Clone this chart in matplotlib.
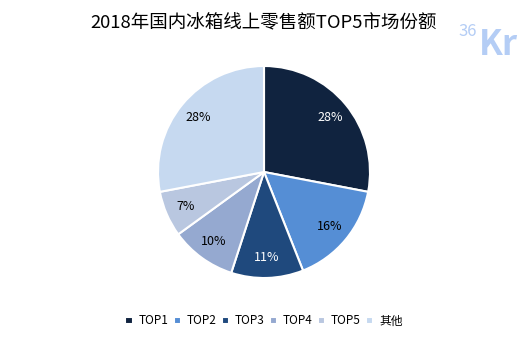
import matplotlib
matplotlib.use("Agg")
import matplotlib.pyplot as plt

plt.rcParams['font.family'] = ['Noto Sans CJK SC', 'DejaVu Sans']

categories = ['TOP1', 'TOP2', 'TOP3', 'TOP4', 'TOP5', '其他']
values = [28, 16, 11, 10, 7, 28]
colors = ['#10233F', '#558ED5', '#1F497D', '#95A9D0', '#B9C7E0', '#C6D9F0']
label_colors = ['white', 'black', 'white', 'black', 'black', 'black']
title = '2018年国内冰箱线上零售额TOP5市场份额'

fig = plt.figure(figsize=(5.28, 3.41), dpi=100)
fig.patch.set_facecolor('white')

r_px = 106
cx, cy = 264, 341 - 172
ax = fig.add_axes([(cx - r_px) / 528, (cy - r_px) / 341, 2 * r_px / 528, 2 * r_px / 341])
wedges, texts, autotexts = ax.pie(values, colors=colors, startangle=90, counterclock=False,
                                  autopct='%d%%', pctdistance=0.81,
                                  wedgeprops=dict(edgecolor='white', linewidth=1.5),
                                  textprops=dict(fontsize=9))
for t, c in zip(autotexts, label_colors):
    t.set_color(c)
ax.set_xlim(-1, 1)
ax.set_ylim(-1, 1)
ax.set_aspect('equal')

fig.text(0.5, 1 - 23 / 341, title, ha='center', va='center', fontsize=13.3, color='black')

# 36Kr logo
logo_color = '#B4CDF5'
fig.text(458 / 528, 1 - 36 / 341, '36', ha='left', va='baseline', fontsize=12, color=logo_color)
fig.text(479 / 528, 1 - 55 / 341, 'Kr', ha='left', va='baseline', fontsize=25, color=logo_color,
         fontweight='bold')

leg = fig.legend(wedges, categories, loc='center', bbox_to_anchor=(0.5, 1 - 321 / 341),
                 ncol=6, frameon=False, fontsize=8.5, handlelength=0.6, handleheight=0.6,
                 handletextpad=0.5, columnspacing=0.45)

fig.savefig('out.png', dpi=100, facecolor='white')
